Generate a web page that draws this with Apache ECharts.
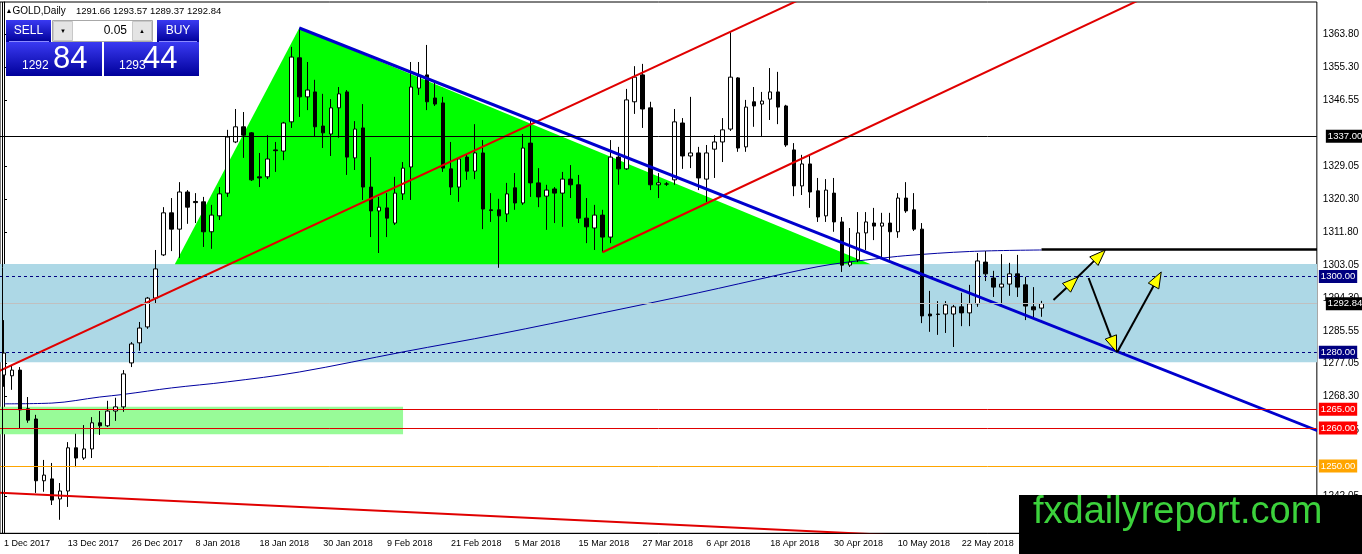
<!DOCTYPE html>
<html><head><meta charset="utf-8">
<script src="https://cdn.jsdelivr.net/npm/echarts@6/dist/echarts.min.js"></script>
<style>html,body{margin:0;padding:0;background:#fff}#c{width:1362px;height:554px}</style>
</head><body><div id="c"></div>
<script>
// ---------- DATA ----------
const firstDay = [2017, 11, 1];
const closedDays = ['2017-12-25', '2018-01-01'];
const totalSlots = 165;
const lastBarIndex = 130;
const monthNames = ['Jan','Feb','Mar','Apr','May','Jun','Jul','Aug','Sep','Oct','Nov','Dec'];

const opens = [
1274.0,1273.8,1275.3,1265.1,1262.4,1246.1,1246.6,1241.3,1243.4,1254.8,
1252.1,1254.5,1261.4,1260.6,1264.5,1265.6,1277.2,1282.5,1286.7,1294.3,
1305.7,1316.8,1312.5,1322.3,1319.8,1319.7,1311.8,1316.0,1322.0,1335.5,
1339.5,1337.9,1326.3,1326.3,1333.4,1333.1,1340.8,1357.7,1347.4,1348.7,
1339.7,1337.6,1344.5,1348.7,1331.3,1339.2,1323.6,1317.3,1318.1,1314.1,
1321.8,1328.9,1349.7,1353.2,1347.1,1345.8,1328.4,1323.6,1331.5,1327.8,
1332.6,1317.6,1317.6,1316.5,1323.4,1319.4,1335.2,1324.7,1321.2,1323.1,
1322.0,1325.7,1324.2,1315.4,1312.8,1316.2,1310.4,1331.5,1328.4,1346.1,
1353.2,1344.5,1324.2,1324.4,1325.5,1340.5,1331.8,1332.6,1325.7,1333.6,
1335.5,1338.9,1352.4,1334.2,1346.1,1345.5,1346.8,1348.7,1345.0,1333.4,
1323.9,1329.7,1322.6,1316.0,1322.0,1314.4,1303.0,1304.4,1311.5,1314.1,
1313.3,1314.1,1311.8,1320.7,1317.6,1312.5,1290.1,1290.1,1290.1,1290.1,
1292.0,1290.4,1292.8,1303.8,1299.6,1297.2,1298.0,1300.7,1297.8,1292.0,
1291.66];
const closes = [
1279.8,1275.3,1264.8,1262.1,1246.1,1247.6,1241.0,1243.4,1254.8,1252.1,
1254.5,1261.4,1260.6,1264.5,1265.6,1274.3,1282.2,1286.4,1294.3,1302.0,
1316.8,1312.5,1322.3,1318.3,1319.5,1311.8,1316.2,1321.8,1336.8,1339.5,
1337.3,1325.5,1326.0,1331.0,1333.2,1340.5,1357.9,1347.4,1349.2,1339.5,
1337.9,1344.5,1348.2,1331.5,1338.9,1323.6,1317.3,1318.3,1315.4,1322.0,
1328.6,1350.0,1352.9,1346.1,1345.5,1328.6,1323.6,1331.0,1327.8,1332.6,
1317.8,1317.4,1316.0,1321.8,1319.4,1333.9,1324.7,1321.0,1322.8,1322.0,
1325.7,1324.2,1315.4,1313.1,1316.2,1310.4,1331.5,1328.4,1346.6,1352.6,
1344.2,1324.2,1324.7,1324.4,1340.8,1331.8,1332.6,1326.0,1332.6,1335.5,
1338.7,1352.6,1333.9,1344.7,1345.0,1346.3,1348.7,1344.7,1334.7,1323.9,
1329.7,1322.3,1315.7,1322.8,1314.4,1303.0,1303.8,1311.5,1314.4,1313.3,
1314.1,1311.8,1320.7,1317.3,1312.5,1289.6,1289.6,1290.0,1292.5,1292.0,
1290.4,1292.8,1304.1,1300.7,1297.2,1298.0,1300.7,1297.2,1292.2,1291.2,
1292.84];
const lows = [
1270.9,1270.1,1260.0,1261.4,1242.9,1243.2,1239.7,1235.8,1239.2,1249.7,
1251.6,1252.1,1258.2,1260.3,1261.9,1264.3,1276.1,1280.4,1286.2,1293.0,
1305.4,1306.7,1304.9,1313.9,1314.1,1307.8,1307.3,1314.9,1321.0,1335.2,
1331.3,1325.2,1323.6,1325.7,1327.6,1330.7,1339.2,1342.1,1343.9,1336.8,
1333.9,1331.8,1336.6,1326.8,1328.1,1320.2,1310.4,1306.2,1310.4,1313.6,
1320.2,1320.2,1347.9,1343.9,1345.0,1327.6,1321.5,1319.7,1325.5,1325.7,
1312.5,1314.4,1302.3,1314.4,1317.6,1318.9,1321.0,1318.3,1312.3,1314.1,
1313.1,1320.7,1314.1,1308.8,1307.0,1306.4,1308.8,1324.2,1328.1,1342.9,
1339.2,1322.8,1320.7,1323.9,1324.2,1328.4,1328.6,1322.8,1319.7,1326.0,
1330.2,1338.4,1332.9,1332.9,1339.5,1336.8,1341.3,1340.2,1334.2,1321.2,
1321.5,1318.1,1314.4,1314.4,1311.8,1301.2,1302.5,1303.8,1307.0,1309.6,
1304.9,1304.4,1310.2,1316.8,1312.0,1287.7,1285.4,1284.6,1285.1,1281.4,
1286.9,1286.9,1292.0,1298.8,1294.6,1292.0,1294.9,1294.6,1288.5,1289.3,
1289.37];
const highs = [
1288.5,1276.4,1276.1,1268.2,1263.5,1251.6,1250.8,1245.5,1256.3,1258.5,
1260.8,1262.9,1264.5,1267.2,1268.0,1275.3,1282.7,1288.0,1294.6,1307.0,
1318.3,1320.7,1324.9,1322.8,1322.0,1321.0,1318.9,1323.6,1338.7,1344.2,
1343.4,1338.1,1332.6,1337.3,1335.5,1340.8,1360.6,1365.6,1356.6,1351.9,
1348.2,1346.8,1350.0,1349.2,1341.0,1345.5,1331.5,1321.0,1322.0,1326.3,
1330.2,1356.6,1356.6,1361.1,1351.1,1347.4,1335.5,1331.5,1332.1,1340.2,
1336.0,1322.0,1320.5,1324.7,1327.3,1337.6,1341.8,1328.6,1324.2,1323.6,
1327.6,1329.4,1326.8,1320.7,1318.9,1317.6,1336.0,1334.2,1349.5,1355.5,
1356.1,1346.1,1327.3,1324.9,1344.2,1341.8,1347.4,1334.2,1334.7,1337.3,
1341.8,1364.5,1352.6,1346.6,1350.0,1348.7,1355.0,1354.0,1345.3,1335.2,
1332.1,1331.8,1326.0,1325.7,1326.0,1315.7,1312.8,1317.0,1317.0,1318.1,
1316.8,1316.8,1322.0,1324.9,1322.0,1314.1,1296.2,1293.5,1293.5,1292.5,
1295.7,1297.8,1306.2,1306.7,1301.5,1305.9,1303.6,1305.7,1299.9,1297.2,
1293.57];

// moving average: [bar index, price]
const maPoints = [[0,1266.4],[6,1266.6],[12,1268.2],[15,1268.9],[21,1270.6],[28,1272.2],[37,1274.8],
 [50,1280.1],[62,1284.8],[75,1290.4],[87,1295.7],[97,1300.4],[102,1302.6],[105,1303.6],[109,1304.6],
 [113,1305.5],[121,1306.6],[130,1307.0]];

const priceTicks = [1363.80,1355.30,1346.55,1329.05,1320.30,1311.80,1303.05,1294.30,1285.55,1277.05,1268.30,1259.55,1242.05];
const levelPrices = [1337.00, 1300.00, 1280.00, 1265.00, 1260.00, 1250.00, 1292.84];
const headerValues = [1291.66, 1293.57, 1289.37, 1292.84];
const sellPrice = ['1292', '84'];
const buyPrice = ['1293', '44'];
const lotSize = '0.05';

// drawings in (bar index, price)
const zoneRect = [[-1, 1303.3, 170, 1277.4]];
const greenRect = [[-1, 1265.6, 50, 1258.4]];
const triangleVertices = [[37, 1365.57], [21.4, 1303.2], [108.6, 1303.2]];
const redLines = [[-1, 1274.7, 102, 1375.3], [75, 1306.4, 143, 1373.7], [-1, 1243.0, 140, 1228.9]];
const blueLine = [[37, 1365.57, 170, 1254.8]];
const blackRay = [[130, 1307.1, 170, 1307.1]];
const arrows = [[131.5,1293.8,134.6,1299.9],[134.4,1299.6,138.0,1307.0],[135.9,1299.6,139.4,1280.1],[139.5,1280.1,145.0,1301.2]];

// ---------- BUILD ----------
const categories = [];
let d = new Date(Date.UTC(firstDay[0], firstDay[1], firstDay[2]));
while (categories.length < totalSlots) {
  const wd = d.getUTCDay();
  const iso = d.toISOString().slice(0, 10);
  if (wd !== 0 && wd !== 6 && closedDays.indexOf(iso) < 0) {
    categories.push(d.getUTCDate() + ' ' + monthNames[d.getUTCMonth()] + ' ' + d.getUTCFullYear());
  }
  d = new Date(d.getTime() + 86400000);
}
const candleData = opens.map((o, i) => [o, closes[i], lows[i], highs[i]]);

const FONT = "'Liberation Sans', Arial, sans-serif";
const levelStyles = [
  {line: {color: '#000', type: 'solid', width: 1}, bg: '#000', dist: 9},
  {line: {color: '#000080', type: [3, 3], width: 1}, bg: '#000080', dist: 2},
  {line: {color: '#000080', type: [3, 3], width: 1}, bg: '#000080', dist: 2},
  {line: {color: '#e00000', type: 'solid', width: 1}, bg: '#ff0000', dist: 2},
  {line: {color: '#e00000', type: 'solid', width: 1}, bg: '#ff0000', dist: 2},
  {line: {color: '#ffa500', type: 'solid', width: 1}, bg: '#ffa500', dist: 2},
  {line: {color: '#c0c0c0', type: 'solid', width: 1}, bg: '#000', dist: 9}
];
const markLineData = levelPrices.map((p, i) => ({
  yAxis: p,
  lineStyle: levelStyles[i].line,
  label: {show: true, position: 'end', distance: levelStyles[i].dist, formatter: p.toFixed(2),
    color: '#fff', backgroundColor: levelStyles[i].bg, padding: [2, 2, 1, 2], fontSize: 9.5, fontFamily: FONT}
}));

function segRenderer(color, width) {
  return function (params, api) {
    const a = api.coord([api.value(0), api.value(1)]);
    const b = api.coord([api.value(2), api.value(3)]);
    return {type: 'line', shape: {x1: a[0], y1: a[1], x2: b[0], y2: b[1]}, style: {stroke: color, lineWidth: width}};
  };
}
function rectRenderer(color) {
  return function (params, api) {
    const a = api.coord([api.value(0), api.value(1)]);
    const b = api.coord([api.value(2), api.value(3)]);
    return {type: 'rect', shape: {x: Math.min(a[0], b[0]), y: Math.min(a[1], b[1]),
      width: Math.abs(b[0] - a[0]), height: Math.abs(b[1] - a[1])}, style: {fill: color}};
  };
}

const chart = echarts.init(document.getElementById('c'), null, {renderer: 'canvas'});
const grad = () => new echarts.graphic.LinearGradient(0, 0, 0, 1, [{offset: 0, color: '#3a3af2'}, {offset: 1, color: '#00009a'}]);
function txt(x, y, text, size, color, align) {
  return {type: 'text', x: x, y: y, z: 60, style: {text: text, fill: color, fontSize: size, fontFamily: FONT,
    align: align || 'left', textAlign: align || 'left', verticalAlign: 'middle', textVerticalAlign: 'middle'}};
}

chart.setOption({
  animation: false,
  backgroundColor: '#fff',
  grid: {left: -1, right: 43, top: 2, bottom: 20.7, show: true, borderColor: '#000', borderWidth: 1, backgroundColor: 'transparent'},
  xAxis: [{
    type: 'category', data: categories, boundaryGap: true,
    axisLine: {lineStyle: {color: '#000', width: 1}},
    axisTick: {interval: 7, alignWithLabel: true, length: 3, lineStyle: {color: '#000'}},
    axisLabel: {interval: 7, align: 'left', margin: 6, fontSize: 9, color: '#000', fontFamily: FONT,
      formatter: (v, i) => (i <= lastBarIndex ? v : '')},
    splitLine: {show: false}
  }, {
    type: 'value', min: -0.5, max: totalSlots - 0.5, show: false
  }],
  yAxis: {
    type: 'value', position: 'right', min: 1232.24, max: 1372.43,
    splitLine: {show: false},
    axisLine: {show: true, lineStyle: {color: '#000'}},
    axisTick: {show: true, length: 3, customValues: priceTicks, lineStyle: {color: '#000'}},
    axisLabel: {customValues: priceTicks, formatter: v => v.toFixed(2), fontSize: 10, color: '#000', margin: 6, fontFamily: FONT}
  },
  series: [
    {type: 'custom', name: 'zone', xAxisIndex: 1, clip: true, z: 1, silent: true, data: zoneRect, renderItem: rectRenderer('#add8e6')},
    {type: 'custom', name: 'greenZone', xAxisIndex: 1, clip: true, z: 1, silent: true, data: greenRect, renderItem: rectRenderer('#98fb98')},
    {type: 'custom', name: 'triangle', xAxisIndex: 1, clip: true, z: 1, silent: true, data: triangleVertices,
      renderItem: function (params, api) {
        if (params.dataIndex !== 0) return null;
        const pts = triangleVertices.map(p => api.coord(p));
        return {type: 'polygon', shape: {points: pts}, style: {fill: '#00ff00'}};
      }},
    {type: 'line', name: 'MA', xAxisIndex: 1, data: maPoints, smooth: 0.35, showSymbol: false, symbol: 'none', z: 2, silent: true,
      lineStyle: {color: '#0000a0', width: 1}},
    {type: 'candlestick', name: 'GOLD', xAxisIndex: 0, data: candleData, barWidth: 4, z: 3,
      itemStyle: {color: '#ffffff', color0: '#000000', borderColor: '#000000', borderColor0: '#000000', borderWidth: 1},
      markLine: {silent: true, symbol: ['none', 'none'], animation: false, data: markLineData}},
    {type: 'custom', name: 'redLines', xAxisIndex: 1, clip: true, z: 4, silent: true, data: redLines, renderItem: segRenderer('#e00000', 2)},
    {type: 'custom', name: 'blueLine', xAxisIndex: 1, clip: true, z: 4, silent: true, data: blueLine, renderItem: segRenderer('#0000cd', 3)},
    {type: 'custom', name: 'blackRay', xAxisIndex: 1, clip: true, z: 4, silent: true, data: blackRay, renderItem: segRenderer('#000', 2.5)},
    {type: 'custom', name: 'arrows', xAxisIndex: 1, clip: true, z: 6, silent: true, data: arrows,
      renderItem: function (params, api) {
        const a = api.coord([api.value(0), api.value(1)]);
        const b = api.coord([api.value(2), api.value(3)]);
        const dx = b[0] - a[0], dy = b[1] - a[1], len = Math.hypot(dx, dy), ux = dx / len, uy = dy / len;
        const L = 16, W = 6;
        const bx = b[0] - ux * L, by = b[1] - uy * L;
        return {type: 'group', children: [
          {type: 'line', shape: {x1: a[0], y1: a[1], x2: bx, y2: by}, style: {stroke: '#000', lineWidth: 2}},
          {type: 'polygon', shape: {points: [[b[0], b[1]], [bx - uy * W, by + ux * W], [bx + uy * W, by - ux * W]]},
            style: {fill: '#ffff00', stroke: '#000', lineWidth: 1}}
        ]};
      }}
  ],
  graphic: [
    {type: 'line', z: 50, shape: {x1: 2.5, y1: 2, x2: 2.5, y2: 533}, style: {stroke: '#000', lineWidth: 1}},
    // header
    txt(5.5, 11, '▲', 7, '#000'),
    txt(12.5, 11, 'GOLD,Daily', 10, '#000'),
    txt(76, 11, headerValues.map(v => v.toFixed(2)).join(' '), 9.5, '#000'),
    // sell / buy panel
    {type: 'rect', z: 55, shape: {x: 6, y: 20, width: 45, height: 22}, style: {fill: grad()}},
    {type: 'rect', z: 55, shape: {x: 6, y: 42, width: 96, height: 34}, style: {fill: grad()}},
    {type: 'rect', z: 55, shape: {x: 157, y: 20, width: 42, height: 22}, style: {fill: grad()}},
    {type: 'rect', z: 55, shape: {x: 104, y: 42, width: 95, height: 34}, style: {fill: grad()}},
    {type: 'line', z: 56, shape: {x1: 9, y1: 41.5, x2: 49, y2: 41.5}, style: {stroke: '#8a8aff', lineWidth: 1}},
    {type: 'line', z: 56, shape: {x1: 159, y1: 41.5, x2: 197, y2: 41.5}, style: {stroke: '#8a8aff', lineWidth: 1}},
    {type: 'rect', z: 55, shape: {x: 52.5, y: 20.5, width: 100, height: 21}, style: {fill: '#f4f4f4', stroke: '#a8a8a8', lineWidth: 1}},
    {type: 'rect', z: 56, shape: {x: 53.5, y: 21.5, width: 19, height: 19}, style: {fill: '#e4e4e4', stroke: '#c8c8c8', lineWidth: 1}},
    {type: 'rect', z: 56, shape: {x: 73, y: 21, width: 59, height: 20}, style: {fill: '#ffffff'}},
    {type: 'rect', z: 56, shape: {x: 132.5, y: 21.5, width: 19, height: 19}, style: {fill: '#e4e4e4', stroke: '#c8c8c8', lineWidth: 1}},
    txt(63, 31, '▼', 6, '#000', 'center'),
    txt(142, 31, '▲', 6, '#000', 'center'),
    txt(127, 31, lotSize, 12, '#000', 'right'),
    txt(28.5, 31, 'SELL', 12, '#fff', 'center'),
    txt(178, 31, 'BUY', 12, '#fff', 'center'),
    txt(22, 66, sellPrice[0], 12, '#fff'),
    txt(53, 59, sellPrice[1], 31, '#fff'),
    txt(119, 66, buyPrice[0], 12, '#fff'),
    txt(143, 59, buyPrice[1], 31, '#fff'),
    // watermark
    {type: 'rect', z: 100, shape: {x: 1019, y: 495, width: 343, height: 59}, style: {fill: '#000'}},
    {type: 'text', z: 101, x: 1033, y: 513, style: {text: 'fxdailyreport.com', fill: '#3cd23c', fontSize: 38, fontFamily: FONT,
      align: 'left', textAlign: 'left', verticalAlign: 'middle', textVerticalAlign: 'middle'}}
  ]
});
</script></body></html>
